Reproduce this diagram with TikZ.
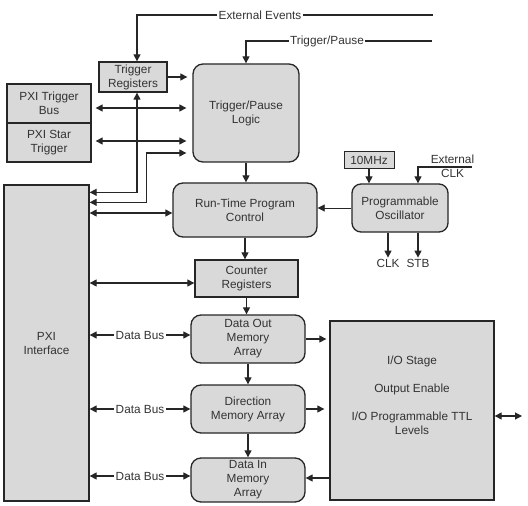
\documentclass[tikz,border=0pt]{standalone}
\usepackage{fontspec}
\setmainfont{Liberation Sans}
\usepackage{tikz}
\usetikzlibrary{arrows.meta}
\definecolor{boxgray}{RGB}{217,217,217}
\definecolor{edgegray}{RGB}{38,38,38}
\definecolor{textgray}{RGB}{51,51,51}
\newcommand{\blockfont}{\fontsize{11.8bp}{14bp}\selectfont}

\begin{document}
\begin{tikzpicture}[
  x=1bp, y=-1bp,
  >={Triangle[length=7bp,width=7bp]},
  block/.style={rectangle, draw=edgegray, fill=boxgray, line width=1.3bp, align=center, inner sep=1bp, text=textgray, font=\blockfont},
  rblock/.style={block, rounded corners=10bp},
  lbl/.style={inner sep=1bp, text=textgray, font=\blockfont},
  buslbl/.style={lbl, fill=white, inner sep=1.5bp},
  wire/.style={line width=1.1bp, draw=edgegray},
  arrow/.style={->, wire},
  dblarrow/.style={<->, wire}
]
\useasboundingbox (0,0) rectangle (528,506);

% PXI side
\node[block, minimum width=84bp, minimum height=39bp] (trigbus) at (49,103.5) {PXI Trigger\\Bus};
\node[block, minimum width=84bp, minimum height=39bp] (startrig) at (49,142.5) {PXI Star\\Trigger};
\node[block, minimum width=85bp, minimum height=316bp] (pxi) at (46.5,343) {PXI\\Interface};

% Trigger path
\node[block, minimum width=68bp, minimum height=30bp] (trigreg) at (133,77) {Trigger\\Registers};
\node[rblock, minimum width=106bp, minimum height=98bp] (tpl) at (246,113) {Trigger/Pause\\Logic};
\node[lbl] (evtlbl) at (260,15) {External Events};
\node[lbl] (tplbl) at (327,41) {Trigger/Pause};
\coordinate (evtsrc) at (433,15);
\coordinate (tpsrc) at (432,41);

% Program control
\node[rblock, minimum width=144bp, minimum height=54bp] (rtpc) at (245,210) {Run-Time Program\\Control};
\node[block, minimum width=103bp, minimum height=37bp] (counter) at (246.5,278.5) {Counter\\Registers};

% Clock
\node[rblock, rounded corners=9bp, minimum width=96bp, minimum height=48bp] (osc) at (400,208) {Programmable\\Oscillator};
\node[block, line width=1bp, minimum width=50bp, minimum height=17bp] (mhz) at (369,160.5) {10MHz};
\node[lbl, align=center] (extclk) at (452.5,166) {External\\CLK};
\coordinate (clksrc) at (472,167);
\node[lbl] (clk) at (388,263) {CLK};
\node[lbl] (stb) at (418,263) {STB};

% Memory arrays
\node[rblock, minimum width=114bp, minimum height=48bp] (dout) at (248,339) {Data Out\\Memory\\Array};
\node[rblock, minimum width=114bp, minimum height=48bp] (dir) at (248,409) {Direction\\Memory Array};
\node[rblock, minimum width=114bp, minimum height=44bp] (din) at (248,480) {Data In\\Memory\\Array};

% I/O stage
\node[block, minimum width=164bp, minimum height=179bp] (io) at (412,410.5) {};
\node[lbl, align=center] (iolbl) at ([yshift=15bp]io.center) {I/O Stage\\[14bp]Output Enable\\[14bp]I/O Programmable TTL\\Levels};
\coordinate (ioext) at (522,416);

% External inputs
\draw[wire] (evtsrc) -- (evtlbl);
\draw[arrow] (evtlbl) -| ([xshift=4bp]trigreg.north);
\draw[wire] (tpsrc) -- (tplbl);
\draw[arrow] (tplbl) -| (tpl.north);

% Trigger arrows
\draw[arrow, shorten >=5bp] (trigreg.east) -- (trigreg.east -| tpl.west);
\draw[dblarrow, shorten <=4bp, shorten >=6bp] ([yshift=-4.5bp]trigbus.east) -- ([yshift=-4.5bp]trigbus.east -| tpl.west);
\draw[dblarrow, shorten <=4bp, shorten >=6bp] ([yshift=1.5bp]startrig.east) -- ([yshift=1.5bp]startrig.east -| tpl.west);
\draw[dblarrow] ([xshift=4bp]trigreg.south) |- ([yshift=-8bp]pxi.north east);
\draw[dblarrow, shorten <=6bp] ([yshift=-40bp]tpl.west) -- ++(-46,0) |- ([yshift=-18bp]pxi.north east);
\draw[dblarrow] ([yshift=-3bp]rtpc.west) -- ([yshift=-3bp]rtpc.west -| pxi.east);

% Control flow
\draw[arrow] (tpl.south) -- (tpl.south |- rtpc.north);
\draw[arrow] (rtpc.south) -- (rtpc.south |- counter.north);
\draw[arrow, line width=0.8bp] (osc.west) -- (osc.west -| rtpc.east);
\draw[arrow] (mhz.south) -- (mhz.south |- osc.north);
\draw[arrow] (clksrc) -| ([xshift=18bp]osc.north);
\draw[arrow] (clk.north |- osc.south) -- (clk.north);
\draw[arrow] (stb.north |- osc.south) -- (stb.north);
\draw[dblarrow] ([yshift=-4.5bp]counter.west) -- ([yshift=-4.5bp]counter.west -| pxi.east);
\draw[arrow] (counter.south) -- (counter.south |- dout.north);
\draw[arrow] (dout.south) -- (dir.north);
\draw[arrow] (dir.south) -- (din.north);

% Data buses
\draw[dblarrow] ([yshift=4bp]dout.west -| pxi.east) -- node[buslbl] {Data Bus} ([yshift=4bp]dout.west);
\draw[dblarrow] (dir.west -| pxi.east) -- node[buslbl] {Data Bus} (dir.west);
\draw[dblarrow] ([yshift=4bp]din.west -| pxi.east) -- node[buslbl] {Data Bus} ([yshift=4bp]din.west);

% I/O connections
\draw[arrow, shorten >=3bp] (dout.east) -- (dout.east -| io.west);
\draw[arrow, shorten >=5bp] (dir.east) -- (dir.east -| io.west);
\draw[arrow] ([yshift=2bp]din.east -| io.west) -- ([yshift=2bp]din.east);
\draw[dblarrow] (ioext -| io.east) -- (ioext);

\end{tikzpicture}
\end{document}
